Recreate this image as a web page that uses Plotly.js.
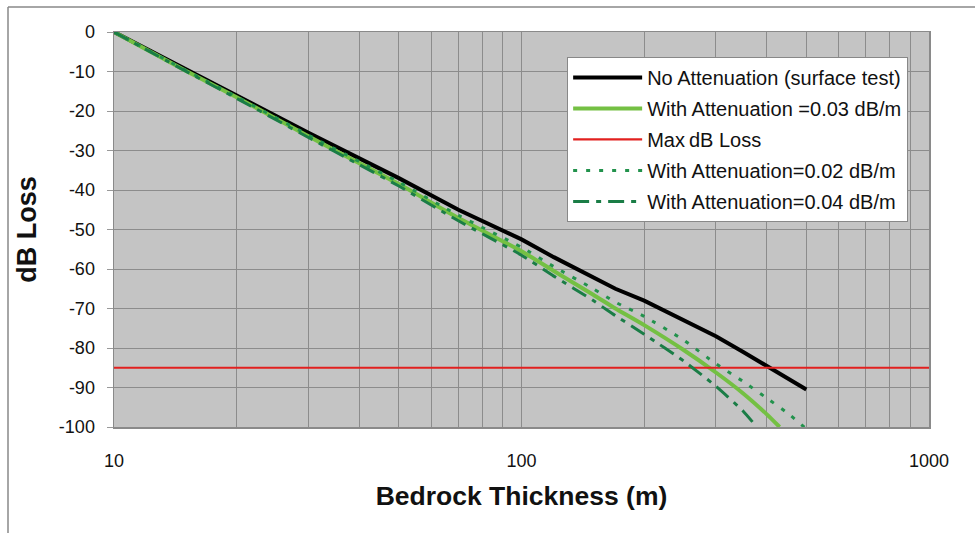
<!DOCTYPE html>
<html>
<head>
<meta charset="utf-8">
<script src="https://cdn.plot.ly/plotly-3.0.1.min.js"></script>
<style>html,body{margin:0;padding:0;background:#fff;}#chart{width:975px;height:533px;}</style>
</head>
<body>
<div id="chart"></div>
<script>
// Bedrock thickness (m)
const thickness = [10, 15, 20, 30, 40, 50, 70, 100, 120, 150, 170, 200, 250, 300, 350, 400, 450, 500];
// dB loss, no attenuation (surface test)
const lossNoAtt = [0, -9.5, -16, -25.5, -32, -37, -45, -52.5, -57, -62, -65, -68, -73, -77, -81, -84.5, -87.5, -90.5];
// dB loss with 0.03 dB/m
const thick03 = [10, 15, 20, 30, 40, 50, 70, 100, 120, 150, 170, 200, 250, 300, 350, 400, 430];
const loss03 = [0, -9.8, -16.5, -26.4, -33.2, -38.5, -47.1, -55.5, -60.5, -66.5, -70, -74.2, -80.5, -86.2, -91.5, -96.8, -100];
// dB loss with 0.02 dB/m
const thick02 = [10, 15, 20, 30, 40, 50, 70, 100, 120, 150, 170, 200, 250, 300, 350, 400, 450, 500];
const loss02 = [0, -9.7, -16.4, -26.1, -32.8, -38, -46.4, -54.5, -59.4, -65, -68.4, -72, -78, -84, -88.5, -92.7, -96.5, -100.5];
// dB loss with 0.04 dB/m
const thick04 = [10, 15, 20, 30, 40, 50, 70, 100, 120, 150, 170, 200, 250, 300, 350, 375];
const loss04 = [0, -9.9, -16.8, -26.7, -33.6, -39, -47.8, -56.5, -61.8, -68, -71.8, -76.5, -83.3, -89.7, -96, -99.6];
// Max dB loss threshold
const maxX = [10, 1000];
const maxLoss = [-85, -85];

const names = ["No Attenuation (surface test)", "With Attenuation =0.03 dB/m", "Max\u2009dB Loss",
               "With Attenuation=0.02 dB/m", "With Attenuation=0.04 dB/m"];
const xTickVals = [10, 100, 1000];
const xTickText = ["10", "100", "1000"];
const minorVals = [20,30,40,50,60,70,80,90,200,300,400,500,600,700,800,900];
const yTickVals = [0,-10,-20,-30,-40,-50,-60,-70,-80,-90,-100];
const yTickText = ["0","-10","-20","-30","-40","-50","-60","-70","-80","-90","-100"];

const traces = [
  {x: thickness, y: lossNoAtt, name: names[0], legendgroup: "a", mode: "lines",
   line: {color: "#000000", width: 4}},
  {x: thick03, y: loss03, name: names[1], legendgroup: "b", mode: "lines",
   line: {color: "#74c043", width: 4, shape: "spline", smoothing: 0.6}},
  {x: maxX, y: maxLoss, name: names[2], legendgroup: "c", mode: "lines",
   line: {color: "#e2201f", width: 2.2}},
  {x: thick02, y: loss02, name: names[3], legendgroup: "d", mode: "lines",
   line: {color: "#22924c", width: 3, dash: "4px,9px", shape: "spline", smoothing: 0.6}},
  {x: thick04, y: loss04, name: names[4], legendgroup: "e", mode: "lines",
   line: {color: "#1a7d46", width: 3, dash: "16px,7px,5px,7px", shape: "spline", smoothing: 0.6}}
];

const layout = {
  width: 975, height: 533,
  margin: {l: 114, r: 46, t: 32, b: 106},
  paper_bgcolor: "#ffffff",
  plot_bgcolor: "#c4c4c4",
  font: {family: "Liberation Sans, Arial, sans-serif", color: "#111", size: 18},
  showlegend: true,
  legend: {
    x: 0.556, y: 0.937, xanchor: "left", yanchor: "top",
    bgcolor: "#ffffff", bordercolor: "#888", borderwidth: 1,
    font: {size: 20, color: "#111"},
    itemwidth: 69, tracegroupgap: 2,
    traceorder: "grouped"
  },
  xaxis: {
    type: "log", range: [1, 3],
    tickvals: xTickVals, ticktext: xTickText,
    ticks: "", ticklabelstandoff: 17,
    tickfont: {size: 18, color: "#111"},
    showgrid: true, gridcolor: "#8c8c8c", gridwidth: 1,
    minor: {tickvals: minorVals, showgrid: true, gridcolor: "#8c8c8c", gridwidth: 1, ticks: ""},
    showline: true, linecolor: "#8a8a8a", linewidth: 1.5, mirror: true,
    zeroline: false, fixedrange: true,
    title: {text: "<b>Bedrock Thickness (m)</b>", font: {size: 26.5, color: "#111"}, standoff: 16}
  },
  yaxis: {
    range: [-100, 0],
    tickvals: yTickVals, ticktext: yTickText,
    ticks: "outside", ticklen: 6, tickcolor: "#999", tickwidth: 1,
    ticklabelstandoff: 8,
    tickfont: {size: 18, color: "#111"},
    showgrid: true, gridcolor: "#8c8c8c", gridwidth: 1,
    showline: true, linecolor: "#8a8a8a", linewidth: 1.5, mirror: true,
    zeroline: false, fixedrange: true,
    title: {text: "<b>dB Loss</b>", font: {size: 27, color: "#111"}, standoff: 14}
  },
  shapes: [
    {type: "line", xref: "paper", yref: "paper", x0: -106/815, x1: -106/815, y0: -106/395, y1: 1+25/395,
     line: {color: "#888", width: 1.5}},
    {type: "line", xref: "paper", yref: "paper", x0: -106/815, x1: 1+46/815, y0: 1+25/395, y1: 1+25/395,
     line: {color: "#888", width: 1.5}}
  ]
};

Plotly.newPlot("chart", traces, layout, {displayModeBar: false, staticPlot: true});
</script>
</body>
</html>
